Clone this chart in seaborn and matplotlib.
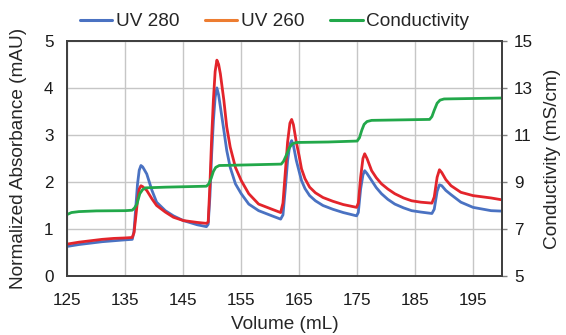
import matplotlib
matplotlib.use("Agg")
import matplotlib.pyplot as plt
from matplotlib.lines import Line2D
import seaborn as sns

# volume grid for the two UV traces (mL)
vol_uv = [125, 127, 129, 131, 133, 135, 136.2, 136.5, 136.8, 137.1,
          137.4, 137.7, 138.0, 138.7, 139.6, 140.4, 141.9, 143.3, 145.0, 147.4,
          149.0, 149.3, 149.6, 149.9, 150.2, 150.5, 150.8, 151.1, 151.4, 152.0,
          152.5, 153.1, 154.0, 155.0, 156.3, 158.0, 160.3, 161.8, 162.2, 162.6,
          163.0, 163.4, 163.7, 164.0, 164.5, 165.0, 165.4, 166.0, 166.8, 167.8,
          169.1, 170.8, 172.6, 174.9, 175.2, 175.6, 176.0, 176.3, 176.7, 177.5,
          178.3, 179.2, 180.3, 181.5, 183.0, 184.4, 186.0, 187.9, 188.3, 188.8,
          189.2, 189.6, 190.3, 191.2, 192.9, 195.0, 198.1, 200]

uv280 = [0.63, 0.67, 0.70, 0.73, 0.75, 0.77, 0.78, 0.95, 1.45, 1.95,
         2.25, 2.35, 2.32, 2.17, 1.82, 1.57, 1.39, 1.28, 1.18, 1.09,
         1.05, 1.10, 1.70, 2.60, 3.30, 3.80, 4.00, 3.85, 3.60, 3.10,
         2.67, 2.31, 1.96, 1.75, 1.53, 1.39, 1.28, 1.21, 1.30, 1.85,
         2.45, 2.80, 2.88, 2.78, 2.46, 2.22, 2.03, 1.86, 1.71, 1.60,
         1.50, 1.42, 1.35, 1.28, 1.35, 1.85, 2.15, 2.24, 2.18, 2.03,
         1.88, 1.75, 1.63, 1.53, 1.45, 1.39, 1.36, 1.33, 1.42, 1.80,
         1.94, 1.92, 1.82, 1.73, 1.57, 1.46, 1.39, 1.38]

uv260 = [0.68, 0.72, 0.75, 0.78, 0.80, 0.81, 0.82, 0.92, 1.25, 1.60,
         1.85, 1.92, 1.90, 1.82, 1.64, 1.50, 1.36, 1.25, 1.18, 1.14,
         1.12, 1.15, 1.95, 2.95, 3.75, 4.35, 4.59, 4.50, 4.30, 3.74,
         3.17, 2.74, 2.31, 2.03, 1.75, 1.53, 1.42, 1.35, 1.55, 2.20,
         2.85, 3.25, 3.33, 3.22, 2.85, 2.55, 2.28, 2.07, 1.89, 1.77,
         1.67, 1.59, 1.52, 1.46, 1.55, 2.10, 2.50, 2.60, 2.50, 2.24,
         2.09, 1.96, 1.85, 1.75, 1.66, 1.60, 1.57, 1.55, 1.68, 2.10,
         2.26, 2.20, 2.05, 1.92, 1.78, 1.71, 1.66, 1.62]

# conductivity trace (mS/cm)
vol_cond = [125, 125.7, 127, 130, 135, 136.2, 136.6, 137.0, 137.5, 138.0,
            138.5, 142, 149, 149.4, 149.8, 150.2, 150.6, 151.2, 155, 161.9,
            162.3, 162.8, 163.3, 163.8, 164.5, 170, 175, 175.4, 175.8, 176.2,
            176.7, 177.5, 187.5, 187.9, 188.3, 188.8, 189.3, 190, 200]
cond = [7.62, 7.70, 7.74, 7.77, 7.78, 7.80, 7.90, 8.06, 8.50, 8.68,
        8.75, 8.78, 8.82, 8.92, 9.15, 9.45, 9.62, 9.70, 9.72, 9.76,
        9.88, 10.15, 10.45, 10.62, 10.68, 10.70, 10.74, 10.88, 11.20, 11.45,
        11.57, 11.62, 11.66, 11.78, 12.05, 12.35, 12.48, 12.53, 12.57]

x_ticks = [125, 135, 145, 155, 165, 175, 185, 195]
left_ticks = [0, 1, 2, 3, 4, 5]
right_ticks = [5, 7, 9, 11, 13, 15]

blue = "#4A72C2"
red = "#E3242B"
orange = "#ED7D31"
green = "#22A84A"

sns.set_style("white")
plt.rcParams["font.family"] = ["Liberation Sans", "DejaVu Sans"]

fig = plt.figure(figsize=(5.66, 3.35), dpi=100)
ax = fig.add_axes([0.119, 0.176, 0.768, 0.702])
ax2 = ax.twinx()

sns.lineplot(x=vol_uv, y=uv280, ax=ax, color=blue, lw=2.0, sort=False)
sns.lineplot(x=vol_uv, y=uv260, ax=ax, color=red, lw=2.0, sort=False)
sns.lineplot(x=vol_cond, y=cond, ax=ax2, color=green, lw=2.0, sort=False)

ax.set_xlim(125, 200)
ax.set_ylim(0, 5)
ax2.set_ylim(5, 15)
ax.set_xticks(x_ticks)
ax.set_yticks(left_ticks)
ax2.set_yticks(right_ticks)

ax.grid(True, color="#c6c6c6", lw=1.0)
ax.set_axisbelow(True)
for s in list(ax.spines.values()) + list(ax2.spines.values()):
    s.set_color("#404040")
    s.set_linewidth(1.3)

ax.tick_params(axis="both", length=0, labelsize=12.3, colors="#1a1a1a")
ax.tick_params(axis="x", pad=12)
ax.tick_params(axis="y", pad=10)
ax2.tick_params(axis="y", length=3.5, width=1, color="#808080", direction="out",
                labelsize=12.3, pad=5, labelcolor="#1a1a1a")

ax.set_xlabel("Volume (mL)", fontsize=13.7, labelpad=6)
ax.set_ylabel("Normalized Absorbance (mAU)", fontsize=13.7, labelpad=12)
ax2.set_ylabel("Conductivity (mS/cm)", fontsize=13.7, labelpad=8)

# legend keeps the orange swatch for UV 260 as in the original figure
handles = [Line2D([], [], color=blue, lw=2.2),
           Line2D([], [], color=orange, lw=2.2),
           Line2D([], [], color=green, lw=2.2)]
fig.legend(handles, ["UV 280", "UV 260", "Conductivity"], loc="center",
           bbox_to_anchor=(0.485, 0.935), ncol=3, frameon=False, fontsize=13.7,
           handlelength=1.7, handletextpad=0.2, columnspacing=1.35)

fig.savefig("out.png", dpi=100)
